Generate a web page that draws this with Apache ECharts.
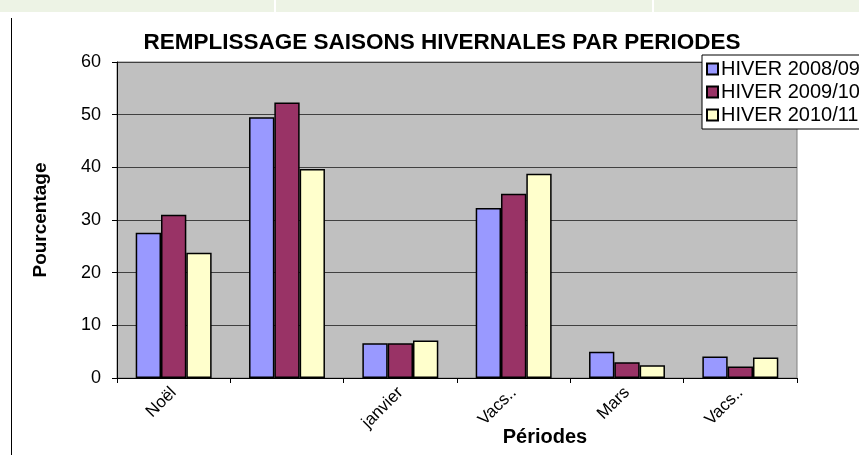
<!DOCTYPE html>
<html>
<head>
<meta charset="utf-8">
<script src="https://cdn.jsdelivr.net/npm/echarts@6/dist/echarts.min.js"></script>
<style>
  html, body { margin: 0; padding: 0; background: #fff; }
  #chart { width: 859px; height: 455px; }
</style>
</head>
<body>
<div id="chart"></div>
<script>
const categories = ['Noël', '', 'janvier', 'Vacs..', 'Mars', 'Vacs..'];
const seriesNames = ['HIVER 2008/09', 'HIVER 2009/10', 'HIVER 2010/11'];
const hiver0809 = [27.6, 49.5, 6.6, 32.3, 5.0, 4.1];
const hiver0910 = [31.0, 52.3, 6.6, 35.0, 3.0, 2.2];
const hiver1011 = [23.8, 39.7, 7.1, 38.8, 2.4, 3.9];
const colors = ['#9999ff', '#993366', '#ffffcc'];

const font = 'Liberation Sans, Arial, sans-serif';
const chart = echarts.init(document.getElementById('chart'));

const barSeries = (name, data, color) => ({
  name: name,
  type: 'bar',
  data: data,
  barGap: '0%',
  barCategoryGap: '33%',
  itemStyle: { color: color, borderColor: '#000', borderWidth: 1.5 }
});

const option = {
  animation: false,
  textStyle: { fontFamily: font },
  title: {
    text: 'REMPLISSAGE SAISONS HIVERNALES PAR PERIODES',
    left: 437,
    textAlign: 'center',
    top: 26,
    textStyle: { fontSize: 22.5, fontWeight: 'bold', color: '#000', fontFamily: font }
  },
  legend: {
    data: seriesNames,
    orient: 'vertical',
    left: 702,
    top: 55,
    padding: [4, 8, 4, 4],
    itemGap: 3,
    itemWidth: 11,
    itemHeight: 11,
    icon: 'rect',
    backgroundColor: '#fff',
    borderColor: '#000',
    borderWidth: 1,
    textStyle: { fontSize: 20, color: '#000', padding: [0, 0, 0, -2] }
  },
  grid: {
    left: 117,
    right: 62,
    top: 62,
    bottom: 77,
    outerBoundsMode: 'none',
    show: true,
    backgroundColor: '#c0c0c0',
    borderColor: '#808080',
    borderWidth: 1
  },
  xAxis: {
    type: 'category',
    data: categories,
    name: 'Périodes',
    nameLocation: 'middle',
    nameGap: 49,
    nameMoveOverlap: false,
    nameTextStyle: { fontSize: 20, fontWeight: 'bold', color: '#000', padding: [0, 0, 0, 176] },
    axisLine: { lineStyle: { color: '#000', width: 1 } },
    axisTick: { show: true, length: 5, lineStyle: { color: '#000' } },
    axisLabel: { rotate: 45, fontSize: 17, color: '#000', interval: 0, margin: 12 }
  },
  yAxis: {
    type: 'value',
    min: 0,
    max: 60,
    interval: 10,
    name: 'Pourcentage',
    nameLocation: 'middle',
    nameGap: 67,
    nameTextStyle: { fontSize: 19, fontWeight: 'bold', color: '#000' },
    axisLine: { show: true, lineStyle: { color: '#000', width: 1 } },
    axisTick: { show: true, length: 5, lineStyle: { color: '#000' } },
    axisLabel: { fontSize: 18, color: '#000', margin: 16 },
    splitLine: { lineStyle: { color: '#404040', width: 1 } }
  },
  graphic: [
    { type: 'rect', shape: { x: 0, y: 0, width: 274, height: 12 }, style: { fill: '#edf3e5' } },
    { type: 'rect', shape: { x: 276, y: 0, width: 376, height: 12 }, style: { fill: '#edf3e5' } },
    { type: 'rect', shape: { x: 654, y: 0, width: 205, height: 12 }, style: { fill: '#edf3e5' } },
    { type: 'line', shape: { x1: 11.5, y1: 18, x2: 11.5, y2: 455 }, style: { stroke: '#000', lineWidth: 1 } }
  ],
  series: [
    barSeries(seriesNames[0], hiver0809, colors[0]),
    barSeries(seriesNames[1], hiver0910, colors[1]),
    barSeries(seriesNames[2], hiver1011, colors[2])
  ]
};

chart.setOption(option);
</script>
</body>
</html>
